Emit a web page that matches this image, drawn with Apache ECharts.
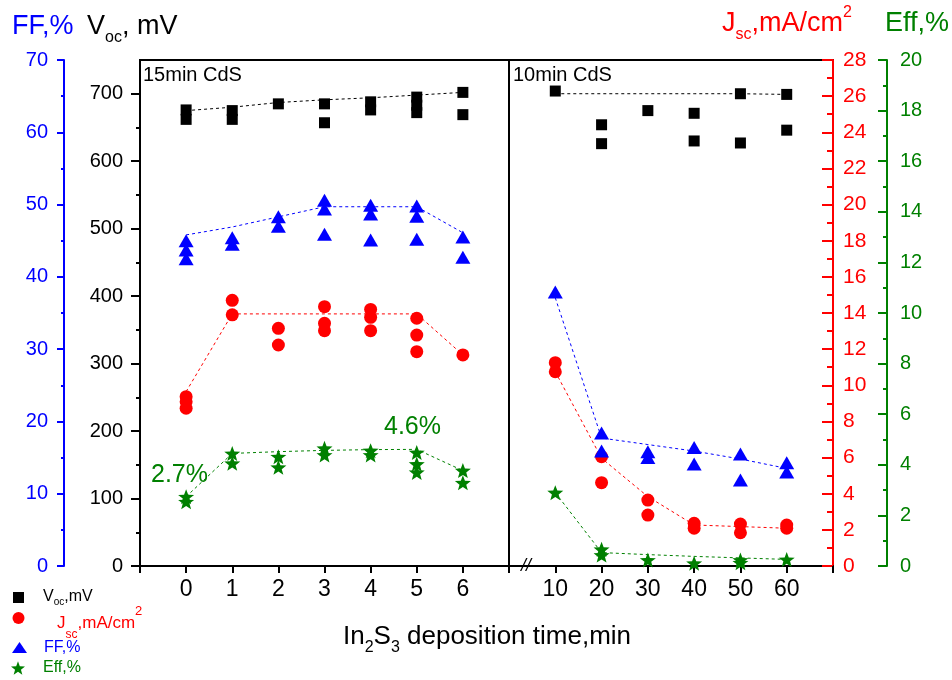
<!DOCTYPE html>
<html>
<head>
<meta charset="utf-8">
<script src="https://cdn.jsdelivr.net/npm/echarts@6/dist/echarts.min.js"></script>
<style>html,body{margin:0;padding:0;background:#fff}#chart{width:952px;height:680px}</style>
</head>
<body>
<div id="chart"></div>
<script>
var FONT = '"Liberation Sans", Arial, sans-serif';
var BLACK = '#000000', RED = '#ff0000', BLUE = '#0000ff', GREEN = '#008000';

// deposition times
var leftTimes = [0, 1, 2, 3, 4, 5, 6];      // 15min CdS
var rightTimes = [10, 20, 30, 40, 50, 60];  // 10min CdS

// Voc, mV (several cells per time)
var vocLeft = [[676, 662], [675, 662], [685], [685, 657], [688, 676], [695, 683, 672], [702, 669]];
var vocLeftTrend = [675, 680, 687, 691, 694, 698, 702];
var vocRight = [[704], [654, 626], [675], [671, 630], [700, 627], [699, 646]];
var vocRightTrend = [700, 700, 700, 700, 700, 699];

// FF, %
var ffLeft = [[45.0, 43.7, 42.5], [45.4, 44.5], [48.3, 47.0], [50.6, 49.4, 45.9], [49.9, 48.7, 45.1], [49.8, 48.4, 45.2], [45.5, 42.7]];
var ffLeftTrend = [45.8, 46.9, 48.3, 49.7, 49.7, 49.7, 46.1];
var ffRight = [[37.9], [18.4, 15.9], [15.8, 15.0], [16.4, 14.1], [15.5, 11.9], [14.3, 13.0]];
var ffRightTrend = [37.1, 17.7, 16.8, 15.9, 14.8, 13.5];

// Jsc, mA/cm2
var jscLeft = [[9.37, 9.09, 8.73], [14.7, 13.9], [13.15, 12.23], [14.35, 13.43, 13.02], [14.2, 13.76, 13.02], [13.71, 12.78, 11.86], [11.68]];
var jscLeftTrend = [9.65, 13.95, 13.95, 13.95, 13.95, 13.95, 11.68];
var jscRight = [[11.25, 10.75], [6.05, 4.61], [3.65, 2.82], [2.36, 2.09], [2.32, 1.84], [2.27, 2.09]];
var jscRightTrend = [10.75, 5.96, 3.84, 2.27, 2.18, 2.09];

// Eff, %
var effLeft = [[2.74, 2.54], [4.45, 4.06], [4.32, 3.90], [4.65, 4.39], [4.56, 4.39], [4.49, 4.03, 3.70], [3.77, 3.29]];
var effLeftTrend = [2.74, 4.45, 4.52, 4.57, 4.60, 4.61, 3.77];
var effRight = [[2.90], [0.66, 0.43], [0.24], [0.11], [0.24, 0.13], [0.26]];
var effRightTrend = [2.90, 0.53, 0.45, 0.38, 0.32, 0.26];

// tick values
var vocTicks = [0, 100, 200, 300, 400, 500, 600, 700];
var vocMinor = [50, 150, 250, 350, 450, 550, 650];
var ffTicks = [0, 10, 20, 30, 40, 50, 60, 70];
var ffMinor = [5, 15, 25, 35, 45, 55, 65];
var jscTicks = [0, 2, 4, 6, 8, 10, 12, 14, 16, 18, 20, 22, 24, 26, 28];
var jscMinor = [1, 3, 5, 7, 9, 11, 13, 15, 17, 19, 21, 23, 25, 27];
var effTicks = [0, 2, 4, 6, 8, 10, 12, 14, 16, 18, 20];
var effMinor = [1, 3, 5, 7, 9, 11, 13, 15, 17, 19];

// 5 point star, slightly fat like the original markers
var STAR = 'path://M50 0 L62.3 33 L97.55 34.55 L70 56.5 L79.39 90.45 L50 71 L20.61 90.45 L30 56.5 L2.45 34.55 L37.7 33 Z';

function pts(xs, groups) {
    var out = [];
    groups.forEach(function (g, i) {
        g.forEach(function (v) { out.push([xs[i], v]); });
    });
    return out;
}
function pairs(xs, ys) {
    return xs.map(function (x, i) { return [x, ys[i]]; });
}

function yAx(o) {
    return {
        type: 'value', gridIndex: o.grid, min: 0, max: o.max,
        position: o.pos || 'left', offset: o.offset || 0, show: o.show !== false,
        axisLine: {show: !!o.line, onZero: false, lineStyle: {color: o.color, width: 2}},
        axisTick: {show: !!o.ticks, inside: !!o.inside, length: o.len || 5, customValues: o.ticks,
            lineStyle: {color: o.color, width: 2}},
        axisLabel: {show: !!o.labels, customValues: o.ticks, margin: o.margin || 8, color: o.color,
            fontSize: o.fontSize || 20, fontFamily: FONT},
        splitLine: {show: false}
    };
}

function sc(name, data, xi, yi, symbol, size, color) {
    return {name: name, type: 'scatter', xAxisIndex: xi, yAxisIndex: yi, data: data,
        symbol: symbol, symbolSize: size, itemStyle: {color: color, opacity: 1},
        emphasis: {disabled: true}, z: 3};
}
function tr(name, data, xi, yi, color) {
    return {name: name, type: 'line', xAxisIndex: xi, yAxisIndex: yi, data: data,
        symbol: 'none', lineStyle: {color: color, width: 1, type: [3, 3]}, z: 2, silent: true};
}

function txt(x, y, text, rich, align) {
    return {type: 'text', x: x, y: y, z: 10,
        style: {text: text, rich: rich, align: align || 'left', verticalAlign: 'middle',
            textAlign: align || 'left', textVerticalAlign: 'middle', font: '20px ' + FONT}};
}
function st(size, color, extra) {
    var s = {fontSize: size, fontFamily: FONT, fill: color, color: color};
    for (var k in extra) s[k] = extra[k];
    return s;
}

var myChart = echarts.init(document.getElementById('chart'));

var option = {
    animation: false,
    textStyle: {fontFamily: FONT},
    grid: [
        {left: 140, top: 60, width: 369, height: 506, show: true, borderColor: BLACK, borderWidth: 2, backgroundColor: 'transparent'},
        {left: 509, top: 60, width: 324, height: 506, show: true, borderColor: BLACK, borderWidth: 2, backgroundColor: 'transparent'}
    ],
    xAxis: [
        {type: 'value', gridIndex: 0, min: -1, max: 7, interval: 1,
            axisLine: {onZero: false, lineStyle: {color: BLACK, width: 2}},
            axisTick: {length: 7, lineStyle: {color: BLACK, width: 2}},
            axisLabel: {fontSize: 23, color: BLACK, margin: 12, fontFamily: FONT,
                formatter: function (v) { return (v >= 0 && v <= 6) ? String(v) : ''; }},
            splitLine: {show: false}},
        {type: 'value', gridIndex: 1, min: 0, max: 70, interval: 10,
            axisLine: {onZero: false, lineStyle: {color: BLACK, width: 2}},
            axisTick: {length: 7, lineStyle: {color: BLACK, width: 2}},
            axisLabel: {fontSize: 23, color: BLACK, margin: 12, fontFamily: FONT,
                formatter: function (v) { return (v >= 10 && v <= 60) ? String(v) : ''; }},
            splitLine: {show: false}}
    ],
    yAxis: [
        yAx({grid: 0, max: 750, color: BLACK, line: true, ticks: vocTicks, len: 9, labels: true, margin: 17}),   // 0
        yAx({grid: 0, max: 750, color: BLACK, ticks: vocMinor, len: 4}),                                        // 1
        yAx({grid: 0, max: 70, color: BLUE, offset: 76, line: true, ticks: ffTicks, len: 7, labels: true, margin: 16}), // 2
        yAx({grid: 0, max: 70, color: BLUE, offset: 76, ticks: ffMinor, len: 3}),                               // 3
        yAx({grid: 0, max: 28, show: false}),                                                                    // 4
        yAx({grid: 0, max: 20, show: false}),                                                                    // 5
        yAx({grid: 1, max: 750, show: false}),                                                                   // 6
        yAx({grid: 1, max: 70, show: false}),                                                                    // 7
        yAx({grid: 1, max: 28, pos: 'right', color: RED, line: true, ticks: jscTicks, len: 11, inside: true, labels: true, margin: 10, fontSize: 21}), // 8
        yAx({grid: 1, max: 28, pos: 'right', color: RED, ticks: jscMinor, len: 6, inside: true}),                // 9
        yAx({grid: 1, max: 20, pos: 'right', offset: 54, color: GREEN, line: true, ticks: effTicks, len: 9, inside: true, labels: true, margin: 13}), // 10
        yAx({grid: 1, max: 20, pos: 'right', offset: 54, color: GREEN, ticks: effMinor, len: 4, inside: true})  // 11
    ],
    legend: [
        {data: ['Voc'], left: 13, top: 592, padding: 0, itemWidth: 11, itemHeight: 11, selectedMode: false, formatter: function () { return ''; }},
        {data: ['Jsc'], left: 12, top: 612, padding: 0, itemWidth: 13, itemHeight: 12, selectedMode: false, formatter: function () { return ''; }},
        {data: ['FF'], left: 12, top: 642, padding: 0, itemWidth: 15, itemHeight: 11, selectedMode: false, formatter: function () { return ''; }},
        {data: ['Eff'], left: 11, top: 661, padding: 0, itemWidth: 14, itemHeight: 14, selectedMode: false, formatter: function () { return ''; }}
    ],
    graphic: {elements: [
        txt(12, 27, '{a|FF,%}', {a: st(27, BLUE)}),
        txt(87, 27, '{a|V}{s|oc}{a|, mV}', {a: st(27, BLACK, {lineHeight: 38}), s: st(16, BLACK, {verticalAlign: 'bottom', lineHeight: 12})}),
        txt(722, 24, '{a|J}{s|sc}{a|,mA/cm}{p|2}', {a: st(27, RED, {lineHeight: 38}), s: st(16, RED, {verticalAlign: 'bottom', lineHeight: 12}), p: st(16, RED, {verticalAlign: 'top', lineHeight: 20})}),
        txt(885, 24, '{a|Eff,%}', {a: st(27, GREEN)}),
        txt(487, 637, '{a|In}{s|2}{a|S}{s|3}{a| deposition time,min}', {a: st(26, BLACK, {lineHeight: 38}), s: st(16, BLACK, {verticalAlign: 'bottom', lineHeight: 12})}, 'center'),
        txt(143, 75, '{a|15min CdS}', {a: st(20, BLACK)}),
        txt(513, 75, '{a|10min CdS}', {a: st(20, BLACK)}),
        txt(151, 475, '{a|2.7%}', {a: st(25, GREEN)}),
        txt(384, 427, '{a|4.6%}', {a: st(25, GREEN)}),
        txt(526, 566, '{a|//}', {a: st(18, BLACK, {fontStyle: 'italic'})}, 'center'),
        txt(43, 597, '{a|V}{s|oc}{a|,mV}', {a: st(16, BLACK, {lineHeight: 20}), s: st(10, BLACK, {verticalAlign: 'bottom', lineHeight: 8})}),
        txt(57, 623, '{a|J}{s|sc}{a|,mA/cm}{p|2}', {a: st(17, RED, {lineHeight: 36}), s: st(12, RED, {verticalAlign: 'bottom', lineHeight: 20}), p: st(13, RED, {verticalAlign: 'top', lineHeight: 5})}),
        txt(44, 648, '{a|FF,%}', {a: st(16, BLUE)}),
        txt(43, 668, '{a|Eff,%}', {a: st(16, GREEN)})
    ]},
    series: [
        tr('Voc trend L', pairs(leftTimes, vocLeftTrend), 0, 0, BLACK),
        tr('FF trend L', pairs(leftTimes, ffLeftTrend), 0, 2, BLUE),
        tr('Jsc trend L', pairs(leftTimes, jscLeftTrend), 0, 4, RED),
        tr('Eff trend L', pairs(leftTimes, effLeftTrend), 0, 5, GREEN),
        tr('Voc trend R', pairs(rightTimes, vocRightTrend), 1, 6, BLACK),
        tr('FF trend R', pairs(rightTimes, ffRightTrend), 1, 7, BLUE),
        tr('Jsc trend R', pairs(rightTimes, jscRightTrend), 1, 8, RED),
        tr('Eff trend R', pairs(rightTimes, effRightTrend), 1, 10, GREEN),
        sc('Voc', pts(leftTimes, vocLeft), 0, 0, 'rect', 11, BLACK),
        sc('Jsc', pts(leftTimes, jscLeft), 0, 4, 'circle', 13, RED),
        sc('FF', pts(leftTimes, ffLeft), 0, 2, 'triangle', [15, 13], BLUE),
        sc('Eff', pts(leftTimes, effLeft), 0, 5, STAR, [16, 15], GREEN),
        sc('Voc', pts(rightTimes, vocRight), 1, 6, 'rect', 11, BLACK),
        sc('Jsc', pts(rightTimes, jscRight), 1, 8, 'circle', 13, RED),
        sc('FF', pts(rightTimes, ffRight), 1, 7, 'triangle', [15, 13], BLUE),
        sc('Eff', pts(rightTimes, effRight), 1, 10, STAR, [16, 15], GREEN)
    ]
};

myChart.setOption(option);
</script>
</body>
</html>
